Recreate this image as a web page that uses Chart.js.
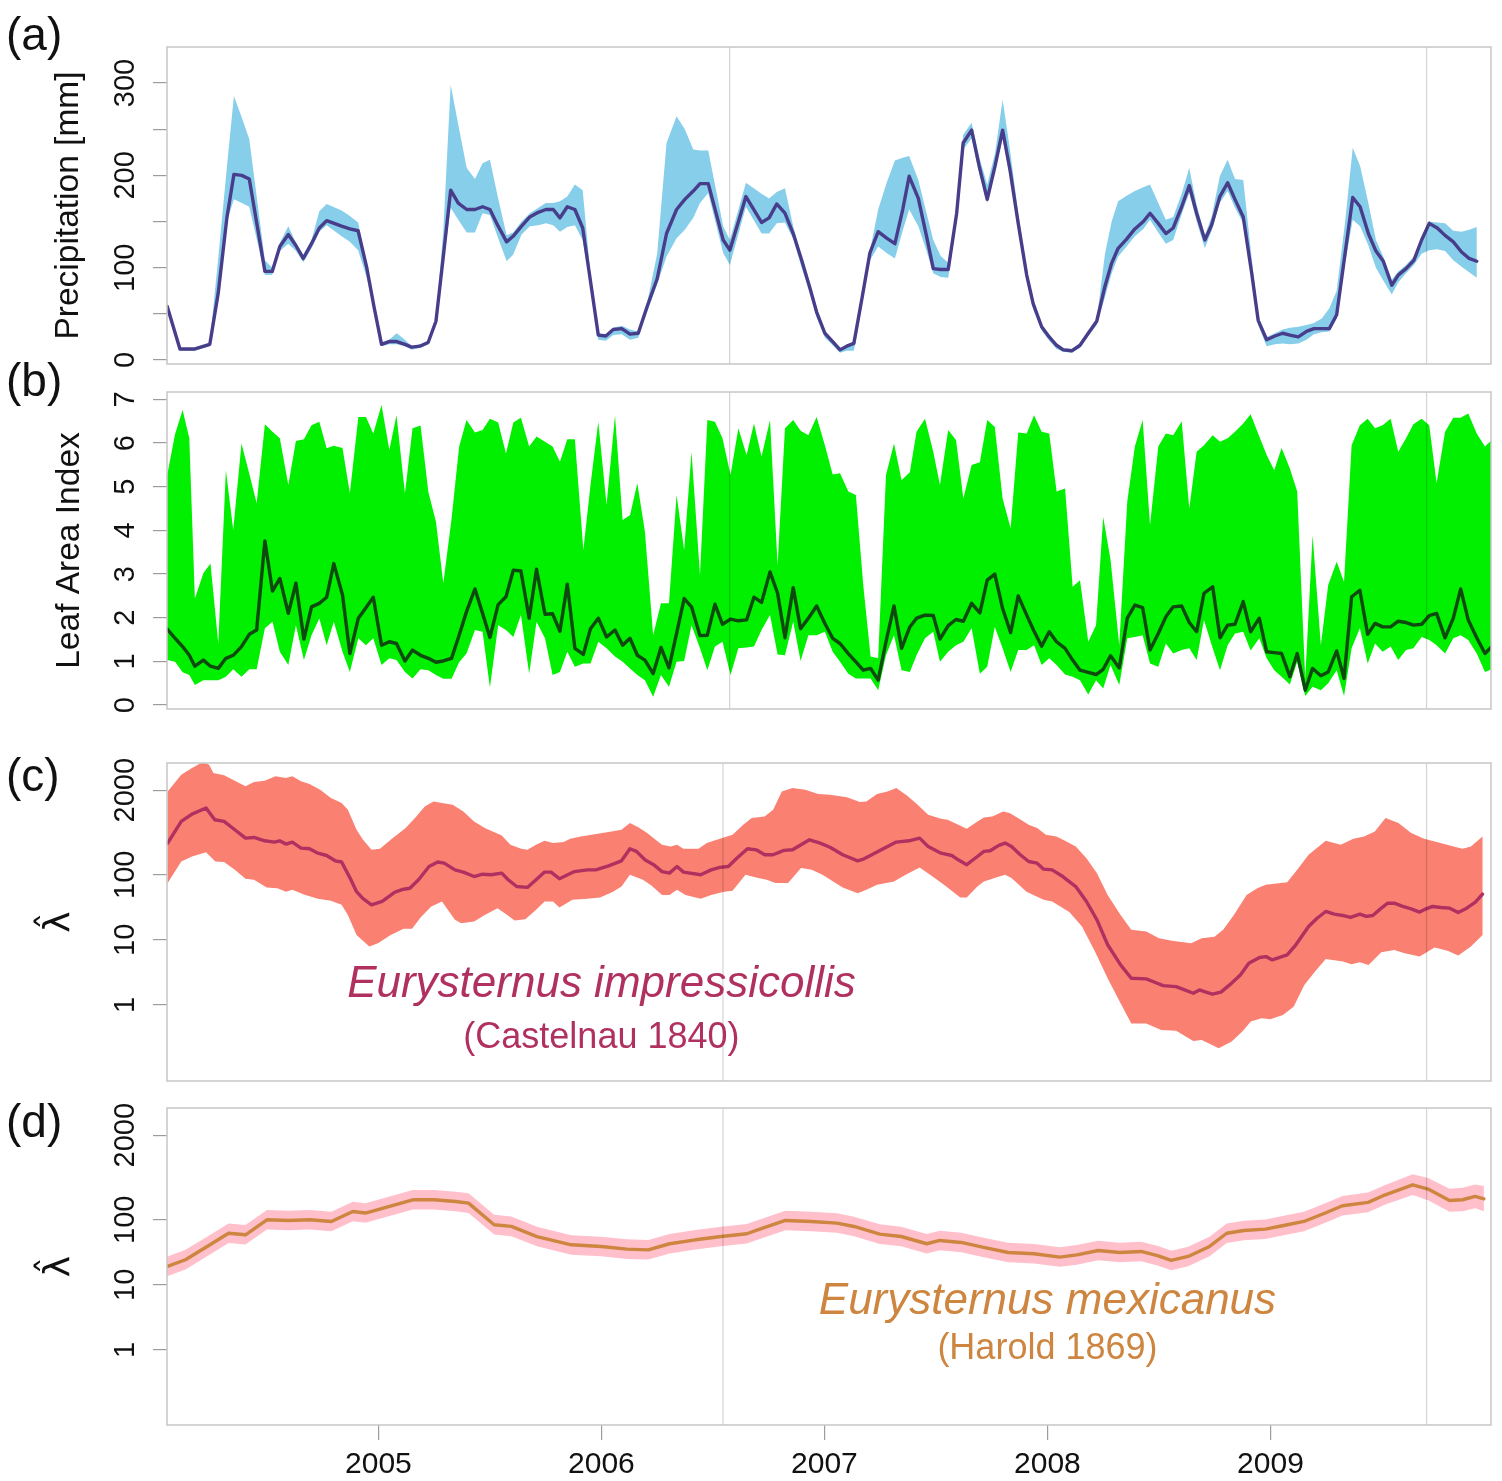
<!DOCTYPE html>
<html>
<head>
<meta charset="utf-8">
<title>Precipitation, LAI and dung beetle abundance</title>
<script src="https://cdn.jsdelivr.net/npm/chart.js@4.4.0/dist/chart.umd.min.js"></script>
<style>
  html, body { margin: 0; padding: 0; background: #fff; }
  #wrap { position: relative; width: 1502px; height: 1481px; overflow: hidden; }
  #wrap canvas { position: absolute; left: 0; top: 0; }
</style>
</head>
<body>
<div id="wrap">
  <canvas id="panelA" width="1502" height="1481"></canvas>
  <canvas id="panelB" width="1502" height="1481"></canvas>
  <canvas id="panelC" width="1502" height="1481"></canvas>
  <canvas id="panelD" width="1502" height="1481"></canvas>
</div>
<script>
// axis ticks and reference lines
var yearTicks = [2005, 2006, 2007, 2008, 2009];
var precipTicks = [0, 50, 100, 150, 200, 250, 300];
var laiTicks = [0, 1, 2, 3, 4, 5, 6, 7];
var lambdaTicks = [1, 10, 100, 2000];
var markersTop = [2006.575, 2009.70];
var markersBottom = [2006.545, 2009.70];

// (a) precipitation [mm]: median and range
var precipT = [2004.053,2004.110,2004.177,2004.244,2004.282,2004.321,2004.352,2004.387,2004.421,2004.491,2004.524,2004.558,2004.596,2004.630,2004.663,2004.700,2004.735,2004.768,2004.835,2004.872,2004.909,2004.947,2004.980,
  2005.014,2005.048,2005.082,2005.119,2005.149,2005.186,2005.223,2005.258,2005.291,2005.324,2005.358,2005.396,2005.433,2005.467,2005.500,2005.537,2005.575,2005.604,2005.642,2005.679,2005.717,2005.751,2005.784,2005.814,2005.847,2005.881,2005.916,2005.950,2005.986,
  2006.020,2006.053,2006.091,2006.128,2006.165,2006.205,2006.250,2006.292,2006.337,2006.374,2006.412,2006.442,2006.479,2006.546,2006.576,2006.648,2006.718,2006.752,2006.786,2006.823,2006.860,2006.898,2006.935,2006.965,
  2007.002,2007.037,2007.070,2007.100,2007.132,2007.167,2007.204,2007.241,2007.279,2007.316,2007.351,2007.380,2007.421,2007.458,2007.488,2007.521,2007.555,2007.593,2007.622,2007.660,2007.694,2007.730,2007.765,2007.799,2007.832,2007.869,2007.907,2007.936,2007.974,
  2008.008,2008.041,2008.071,2008.109,2008.146,2008.183,2008.221,2008.258,2008.288,2008.317,2008.355,2008.392,2008.430,2008.460,2008.497,2008.531,2008.564,2008.602,2008.636,2008.669,2008.706,2008.736,2008.773,2008.808,2008.841,2008.878,2008.916,2008.945,2008.983,
  2009.020,2009.055,2009.087,2009.125,2009.162,2009.195,2009.230,2009.264,2009.297,2009.335,2009.369,2009.402,2009.439,2009.473,2009.506,2009.544,2009.573,2009.608,2009.643,2009.678,2009.712,2009.748,2009.783,2009.820,2009.857,2009.891,2009.925];
var precipMean = [58,12,12,17,73,155,201,200,196,96,96,123,136,124,110,126,143,151,145,142,140,101,58,
  17,20,20,17,14,15,19,42,112,184,170,163,163,166,163,145,128,134,145,155,160,163,163,154,166,163,143,87,27,
  26,33,34,28,29,58,88,137,163,174,183,191,191,130,119,177,149,154,169,159,137,108,78,52,
  29,20,11,15,18,65,116,139,132,126,163,199,175,134,99,98,98,159,235,249,210,174,210,249,206,148,92,61,36,
  25,16,11,10,16,29,42,80,105,121,131,142,150,159,148,137,143,166,189,159,130,146,177,192,174,155,94,43,22,
  26,29,27,25,31,34,34,34,49,116,176,166,137,118,107,81,92,99,108,130,148,143,135,128,117,110,107];
var precipLow = [55,10,10,15,65,150,174,170,166,92,92,118,126,118,106,121,139,146,134,128,119,90,54,
  15,17,17,15,11,13,17,38,105,165,152,138,138,159,157,132,107,114,136,145,146,148,146,139,144,146,130,82,22,
  21,27,28,22,24,52,82,112,132,141,154,170,181,116,103,166,137,137,148,149,131,100,72,46,
  24,16,8,10,10,58,108,123,116,110,140,163,145,118,94,90,89,150,228,240,202,170,205,240,198,140,86,55,32,
  21,12,9,8,13,26,38,68,94,112,123,134,142,152,138,126,130,158,181,150,121,140,170,183,165,148,88,38,15,
  17,18,17,18,22,28,30,31,45,105,152,145,124,100,86,71,84,94,103,115,119,120,118,108,101,95,89];
var precipHigh = [60,13,13,19,111,210,286,263,239,108,100,127,145,127,114,130,161,169,162,156,149,104,60,
  19,22,29,22,15,17,21,45,140,298,255,208,196,213,217,175,135,138,150,159,165,170,170,172,177,190,184,95,29,
  28,35,37,33,31,62,115,235,264,250,228,227,227,145,130,192,180,175,182,186,145,112,81,55,
  31,22,13,16,20,70,118,163,192,216,219,221,195,159,130,113,105,163,244,257,220,190,224,282,228,159,98,64,38,
  27,17,13,12,18,31,44,115,150,172,178,183,187,190,170,152,155,180,208,168,135,155,199,217,196,195,110,47,25,
  29,33,35,36,38,40,45,56,75,150,230,210,170,130,112,87,96,103,112,134,150,149,148,140,139,141,144];

// (b) leaf area index: median and range
var laiT = [2004.053,2004.088,2004.122,2004.152,2004.177,2004.215,2004.247,2004.282,2004.316,2004.349,2004.386,2004.421,2004.454,2004.491,2004.525,2004.558,2004.596,2004.630,2004.666,2004.700,2004.735,2004.768,2004.800,2004.839,2004.872,2004.910,2004.944,2004.977,
  2005.014,2005.049,2005.081,2005.119,2005.153,2005.189,2005.224,2005.258,2005.291,2005.328,2005.362,2005.395,2005.433,2005.467,2005.500,2005.537,2005.572,2005.605,2005.639,2005.676,2005.709,2005.747,2005.781,2005.814,2005.847,2005.881,2005.919,2005.951,2005.986,
  2006.023,2006.061,2006.095,2006.128,2006.161,2006.195,2006.232,2006.267,2006.303,2006.337,2006.371,2006.404,2006.442,2006.475,2006.509,2006.543,2006.579,2006.614,2006.651,2006.684,2006.718,2006.756,2006.790,2006.823,2006.860,2006.893,2006.928,2006.965,
  2007.002,2007.037,2007.070,2007.107,2007.141,2007.174,2007.207,2007.241,2007.276,2007.312,2007.346,2007.383,2007.413,2007.451,2007.488,2007.518,2007.555,2007.590,2007.623,2007.660,2007.697,2007.730,2007.764,2007.799,2007.835,2007.869,2007.907,2007.940,2007.974,
  2008.008,2008.041,2008.079,2008.113,2008.146,2008.183,2008.218,2008.250,2008.283,2008.322,2008.358,2008.392,2008.427,2008.460,2008.497,2008.531,2008.564,2008.602,2008.636,2008.669,2008.702,2008.741,2008.774,2008.808,2008.841,2008.878,2008.911,2008.950,2008.983,
  2009.017,2009.050,2009.087,2009.120,2009.156,2009.189,2009.226,2009.259,2009.297,2009.330,2009.364,2009.401,2009.436,2009.469,2009.503,2009.539,2009.573,2009.608,2009.641,2009.678,2009.712,2009.745,2009.783,2009.820,2009.853,2009.887,2009.925,2009.962,2009.992];
var laiMean = [1.74,1.53,1.34,1.14,0.89,1.03,0.89,0.84,1.07,1.14,1.34,1.62,1.72,3.76,2.61,2.90,2.10,2.79,1.51,2.25,2.33,2.47,3.24,2.52,1.18,1.99,2.23,2.47,
  1.37,1.45,1.41,1.01,1.26,1.14,1.07,0.98,1.01,1.07,1.60,2.14,2.66,2.10,1.55,2.30,2.48,3.09,3.07,1.99,3.11,2.08,2.09,1.69,2.77,1.30,1.16,1.75,1.99,
  1.56,1.72,1.37,1.53,1.14,1.03,0.72,1.32,0.85,1.64,2.44,2.25,1.59,1.60,2.31,1.85,1.97,1.93,1.95,2.47,2.35,3.05,2.56,1.54,2.69,1.75,1.99,2.27,
  1.87,1.53,1.41,1.18,0.99,0.80,0.84,0.57,1.45,2.27,1.30,1.79,1.99,2.06,2.05,1.51,1.82,1.96,1.92,2.33,2.11,2.86,3.00,2.21,1.66,2.50,2.06,1.69,1.35,
  1.68,1.45,1.30,1.03,0.80,0.75,0.70,0.82,1.13,0.85,1.99,2.29,2.23,1.26,1.64,2.02,2.25,2.27,1.89,1.68,2.56,2.71,1.54,1.83,1.85,2.37,1.68,1.99,1.22,
  1.20,1.18,0.65,1.18,0.34,0.84,0.67,0.76,1.24,0.61,2.48,2.63,1.62,1.87,1.79,1.79,1.92,1.89,1.83,1.85,2.05,2.10,1.54,1.99,2.66,1.95,1.54,1.18,1.34];
var laiLow = [1.03,0.99,0.75,0.69,0.46,0.57,0.57,0.57,0.65,0.82,0.65,0.82,0.82,1.76,1.91,1.22,0.92,1.83,1.03,1.60,1.98,1.37,1.91,1.22,0.76,1.53,1.37,1.53,
  0.92,1.07,1.03,0.76,0.61,0.82,0.80,0.69,0.60,0.60,0.98,1.18,1.72,1.68,0.40,1.83,1.72,1.56,2.06,0.72,1.91,1.53,0.69,0.76,1.22,0.88,0.95,0.95,1.45,
  1.30,1.11,0.99,0.84,0.69,0.57,0.19,0.69,0.42,0.99,1.01,1.83,1.30,0.80,1.34,1.45,0.69,1.30,1.32,1.34,1.72,2.06,1.16,1.14,1.91,1.01,1.60,1.60,
  1.68,1.22,0.99,0.72,0.61,0.61,0.61,0.34,1.14,1.60,0.80,0.76,1.14,1.53,1.68,0.99,1.22,1.37,1.45,1.76,0.72,0.88,1.79,1.30,0.76,1.26,1.26,1.37,0.92,
  1.07,0.92,0.70,0.65,0.57,0.24,0.57,0.38,0.92,0.46,1.53,1.56,1.60,0.95,0.88,1.41,1.18,1.26,1.30,1.03,1.95,1.30,0.80,1.37,1.64,1.68,1.25,1.53,1.07,
  0.80,0.65,0.47,0.99,0.21,0.42,0.34,0.50,0.80,0.21,1.30,1.76,0.95,1.41,1.22,1.34,1.03,1.26,1.30,1.56,1.49,1.37,1.18,1.53,1.60,1.49,1.18,0.76,0.82];
var laiHigh = [5.27,6.20,6.76,6.11,2.44,3.02,3.24,1.41,5.38,4.01,5.99,5.30,4.62,6.43,6.26,6.11,5.04,6.05,6.09,6.41,6.49,5.88,5.94,5.89,4.85,6.60,6.60,6.22,
  6.87,5.84,6.64,4.85,6.34,6.40,4.88,4.20,2.79,4.27,5.92,6.53,6.24,6.30,6.56,6.47,5.76,6.47,6.58,5.92,6.15,6.03,5.92,5.57,6.09,6.09,3.55,5.04,6.49,
  4.58,6.63,4.24,4.35,5.08,3.97,1.60,2.33,2.33,4.81,3.55,5.80,2.98,6.53,6.49,6.11,5.27,6.34,5.73,6.45,5.69,6.53,3.21,6.34,6.53,6.28,6.18,6.60,
  5.95,5.28,5.31,4.89,4.81,2.75,1.11,1.07,5.27,5.99,5.15,5.33,6.26,6.56,5.80,5.04,6.30,6.07,4.73,5.50,5.56,6.53,6.37,4.73,4.05,6.24,6.22,6.64,6.26,
  6.22,4.89,4.96,2.71,2.86,1.45,1.83,4.31,3.32,1.37,4.66,5.92,6.53,4.12,5.92,6.22,6.18,6.50,4.50,5.80,5.95,6.18,6.03,6.11,6.26,6.45,6.66,6.15,5.73,
  5.38,5.89,5.42,4.89,0.61,3.89,1.37,2.75,3.28,2.82,5.95,6.41,6.56,6.34,6.41,6.56,5.80,6.11,6.43,6.56,6.41,5.08,6.26,6.58,6.58,6.68,6.22,5.92,6.07];

// (c) Eurysternus impressicollis, estimated abundance
var impT = [2004.055,2004.116,2004.164,2004.227,2004.266,2004.308,2004.356,2004.404,2004.442,2004.490,2004.534,2004.557,2004.586,2004.614,2004.653,2004.691,2004.729,2004.768,2004.806,2004.835,2004.873,2004.902,2004.931,2004.969,
  2005.017,2005.074,2005.113,2005.141,2005.180,2005.227,2005.266,2005.295,2005.343,2005.381,2005.429,2005.467,2005.505,2005.553,2005.582,2005.620,2005.668,2005.707,2005.745,2005.774,2005.812,2005.879,2005.937,2005.975,
  2006.032,2006.090,2006.128,2006.157,2006.195,2006.234,2006.272,2006.305,2006.339,2006.368,2006.445,2006.492,2006.531,2006.569,2006.607,2006.655,2006.694,2006.732,2006.770,2006.818,2006.857,2006.895,2006.933,2006.981,
  2007.025,2007.082,2007.149,2007.178,2007.255,2007.322,2007.379,2007.427,2007.465,2007.523,2007.571,2007.600,2007.638,2007.686,2007.715,2007.743,2007.782,2007.810,2007.839,2007.878,2007.916,2007.954,2007.983,
  2008.021,2008.069,2008.127,2008.175,2008.222,2008.270,2008.328,2008.376,2008.443,2008.481,2008.519,2008.577,2008.615,2008.654,2008.682,2008.711,2008.740,2008.778,2008.817,2008.865,2008.903,2008.951,2008.980,
  2009.008,2009.075,2009.114,2009.171,2009.209,2009.248,2009.286,2009.324,2009.359,2009.401,2009.430,2009.459,2009.497,2009.526,2009.555,2009.593,2009.631,2009.669,2009.698,2009.727,2009.765,2009.804,2009.842,2009.880,2009.919,2009.951];
var impMean = [307,661,857,1062,701,661,492,366,375,333,318,333,296,318,257,251,215,198,164,157,89,55,43,34.5,
  38.9,54,60,62,84,134,157,151,119,110,94,102,100,106,84,66,64,84,110,110,87,112,119,119,
  137,164,251,229,170,143,112,106,134,110,100,119,130,134,180,251,242,203,203,237,242,289,345,307,
  265,203,164,176,242,318,333,366,273,215,198,170,143,191,229,234,283,307,273,203,160,151,122,
  119,94,66,38.9,20.3,8.4,4.12,2.57,2.51,2.23,1.98,1.91,1.70,1.51,1.70,1.57,1.46,1.57,2.03,2.89,4.38,5.35,5.53,
  4.92,5.87,8.4,16.0,21.5,27.3,24.8,23.7,22.1,24.8,22.9,23.7,30.7,36.6,36.6,32.6,30.0,26.7,30.0,32.6,31.4,30.7,26.3,30.7,37.9,50.4];
var impHighT = [2004.055,2004.116,2004.164,2004.212,2004.241,2004.260,2004.308,2004.356,2004.404,2004.442,2004.490,2004.538,2004.586,2004.614,2004.653,2004.691,2004.739,2004.787,2004.835,2004.863,2004.902,2004.931,2004.969,
  2005.007,2005.055,2005.122,2005.170,2005.208,2005.247,2005.285,2005.333,2005.381,2005.429,2005.477,2005.553,2005.592,2005.640,2005.668,2005.707,2005.745,2005.783,2005.831,2005.860,2005.908,2005.956,
  2006.032,2006.090,2006.128,2006.167,2006.205,2006.243,2006.272,2006.310,2006.339,2006.368,2006.435,2006.473,2006.531,2006.588,2006.636,2006.674,2006.732,2006.770,2006.809,2006.857,2006.914,2006.972,
  2007.025,2007.101,2007.159,2007.188,2007.236,2007.283,2007.322,2007.370,2007.418,2007.465,2007.523,2007.552,2007.600,2007.638,2007.686,2007.715,2007.753,2007.801,2007.830,2007.868,2007.916,2007.954,2007.993,
  2008.040,2008.079,2008.127,2008.175,2008.222,2008.270,2008.328,2008.376,2008.443,2008.500,2008.558,2008.644,2008.692,2008.749,2008.788,2008.836,2008.893,2008.941,2008.979,
  2009.075,2009.114,2009.171,2009.248,2009.315,2009.372,2009.420,2009.468,2009.516,2009.574,2009.631,2009.689,2009.746,2009.804,2009.861,2009.899,2009.951];
var impHigh = [1914,3451,4375,5400,4920,3664,3373,2793,2286,2663,2793,3258,3069,3258,2729,2483,2032,1510,1267,1000,492,345,242,
  251,345,522,789,1125,1343,1267,1194,942,661,522,403,289,251,242,289,333,307,318,358,389,412,
  453,492,624,535,438,345,289,273,289,251,251,307,358,412,588,745,789,1000,1914,2153,2032,1742,
  1702,1549,1312,1343,1742,1914,2153,1660,1194,837,728,701,588,510,661,762,789,942,889,745,588,522,412,
  389,333,273,180,106,49,24.2,14.3,13.4,10.6,9.66,8.89,10.6,11.2,14.3,24.2,49,62,70,
  77,112,203,333,289,358,389,464,745,624,438,358,318,283,251,273,389];
var impLowT = [2004.055,2004.116,2004.164,2004.227,2004.269,2004.308,2004.356,2004.404,2004.442,2004.499,2004.547,2004.586,2004.614,2004.672,2004.729,2004.787,2004.835,2004.863,2004.902,2004.959,2004.998,
  2005.055,2005.113,2005.151,2005.189,2005.237,2005.285,2005.343,2005.371,2005.429,2005.477,2005.534,2005.573,2005.611,2005.659,2005.707,2005.745,2005.783,2005.812,2005.870,2005.937,2005.994,
  2006.052,2006.090,2006.128,2006.186,2006.224,2006.272,2006.305,2006.339,2006.377,2006.445,2006.492,2006.550,2006.588,2006.646,2006.703,2006.741,2006.780,2006.837,2006.895,2006.943,2006.991,
  2007.082,2007.149,2007.188,2007.236,2007.312,2007.360,2007.427,2007.485,2007.542,2007.609,2007.638,2007.686,2007.715,2007.763,2007.810,2007.839,2007.906,2007.983,
  2008.021,2008.098,2008.155,2008.213,2008.270,2008.328,2008.376,2008.443,2008.510,2008.577,2008.654,2008.692,2008.768,2008.826,2008.874,2008.912,2008.960,2008.999,
  2009.056,2009.104,2009.152,2009.200,2009.248,2009.325,2009.363,2009.401,2009.440,2009.497,2009.555,2009.602,2009.669,2009.736,2009.794,2009.842,2009.899,2009.951];
var impLow = [74.5,160,191,223,160,157,119,87,84,64,62,55,59,49,43,40,34.5,24.2,11.9,7.9,8.9,
  11.9,14.8,14.8,22,32.6,38.9,20.3,18.0,19.1,24.2,30.7,24.8,19.8,20.8,28.9,38.9,38.9,31.4,41.2,42.8,44.8,
  55,66,100,84,68.5,49,49,59,49,43,49,55,57,100,89,84,74.5,74.5,127,119,100,
  64,52,59,70,79,98,130,94,68,44.8,44.8,66,79,89,100,89,55,41.2,
  38.9,26.7,16.0,6.6,2.57,1.06,0.52,0.52,0.41,0.40,0.28,0.29,0.215,0.273,0.389,0.555,0.624,0.60,
  0.70,0.94,2.03,3.26,5.1,4.65,4.23,4.53,4.12,6.46,7.0,6.24,5.53,7.6,6.78,5.74,7.9,11.9];

// (d) Eurysternus mexicanus, estimated abundance
var mexT = [2004.051,2004.135,2004.232,2004.328,2004.404,2004.500,2004.597,2004.693,2004.789,2004.885,2004.942,
  2005.038,2005.154,2005.250,2005.346,2005.404,2005.519,2005.596,2005.711,2005.865,2005.999,
  2006.114,2006.210,2006.306,2006.422,2006.537,2006.652,2006.710,2006.825,2006.940,
  2007.056,2007.133,2007.248,2007.344,2007.459,2007.517,2007.613,2007.709,2007.824,2007.940,
  2008.055,2008.132,2008.228,2008.324,2008.420,2008.497,2008.555,2008.631,2008.727,2008.804,2008.881,2008.977,
  2009.054,2009.150,2009.246,2009.323,2009.438,2009.515,2009.638,2009.707,2009.803,2009.861,2009.918,2009.957];
var mexMean = [19.1,24.3,38.9,62,58.8,100,97.7,100,94.2,134,127,
  157,203,203,191,180,84,79,55,41.2,38.9,
  35.4,34.5,42.8,49.2,55.3,61,71.8,97.7,94.2,
  88.9,78.9,60.1,55.3,42.8,48.1,44.8,37.9,31.4,30,
  26.7,28.9,33.7,31.4,32.6,27.9,23.7,27.3,38.9,62,68.5,71.8,
  80.9,94.2,127,164,185,242,345,296,198,203,229,210];
var mexHigh = [27,34.5,55,88,83,141,138,141,133,190,180,
  222,287,287,270,255,119,112,78,58,55,
  50,49,60.5,69.5,78,86,101,138,133,
  126,111.5,85,78,60.5,68,63.3,53.6,44.4,42.4,
  37.7,40.9,47.6,44.4,46.1,39.4,33.5,38.6,55,88,97,101,
  114,133,180,232,262,342,500,440,300,310,350,330];
var mexLow = [13.5,17.2,27.5,44,41.5,71,69,71,66.5,95,90,
  111,144,144,135,127,59.5,56,39,29,27.5,
  25,24.4,30.3,34.8,39,43,50.7,69,66.5,
  63,55.8,42.5,39,30.3,34,31.7,26.8,22.2,21.2,
  18.9,20.4,23.8,22.2,23,19.7,16.8,19.3,27.5,44,48.4,50.7,
  57.2,66.5,90,116,131,171,240,200,133,135,150,135];

var FONT = '"Liberation Sans", Arial, Helvetica, sans-serif';
var X_MIN = 2004.052, X_MAX = 2009.989;
var PLOT_LEFT = 167, FULL_H = 1481;
var TICK_LEN = 14, LABEL_CENTRE = 126, TICK_FONT = 29;

function xy(t, v) {
  return t.map(function (x, i) { return {x: x, y: v[i]}; });
}

// polygon: upper edge forwards, lower edge backwards
function bandPoints(tHi, hi, tLo, lo) {
  var pts = xy(tHi, hi);
  for (var i = tLo.length - 1; i >= 0; i--) pts.push({x: tLo[i], y: lo[i]});
  return pts;
}

// padding so the rotated tick labels sit centred on x = LABEL_CENTRE
function tickPad(labels) {
  var c = document.createElement('canvas').getContext('2d');
  c.font = TICK_FONT + 'px ' + FONT;
  var w = Math.max.apply(null, labels.map(function (l) { return c.measureText(l).width; }));
  return PLOT_LEFT - TICK_LEN - LABEL_CENTRE - w / 2;
}

var framePlugin = {
  id: 'frame',
  afterDatasetsDraw: function (chart) {
    var a = chart.chartArea, ctx = chart.ctx;
    ctx.save();
    ctx.strokeStyle = '#c6c6c6';
    ctx.lineWidth = 1.5;
    ctx.strokeRect(a.left, a.top, a.right - a.left, a.bottom - a.top);
    ctx.restore();
  },
  afterDraw: function (chart, args, opts) {
    var ctx = chart.ctx;
    ctx.save();
    ctx.fillStyle = '#111';
    ctx.font = '46px ' + FONT;
    ctx.textAlign = 'left';
    ctx.textBaseline = 'middle';
    ctx.fillText(opts.letter, 6, opts.letterY);
    (opts.notes || []).forEach(function (n) {
      ctx.font = n.font;
      ctx.fillStyle = n.color;
      ctx.textAlign = 'center';
      ctx.textBaseline = 'alphabetic';
      ctx.fillText(n.text, chart.scales.x.getPixelForValue(n.x), chart.scales.y.getPixelForValue(n.y));
    });
    ctx.restore();
  }
};

function makePanel(id, cfg) {
  var datasets = [];
  cfg.markers.forEach(function (t) {
    datasets.push({
      data: [{x: t, y: cfg.yMin}, {x: t, y: cfg.yMax}],
      borderColor: 'rgba(0,0,0,0.16)', borderWidth: 1.3,
      pointRadius: 0, fill: false, order: 0
    });
  });
  datasets.push({
    data: xy(cfg.t, cfg.mean),
    borderColor: cfg.lineColor, borderWidth: 3.4,
    borderJoinStyle: 'round', borderCapStyle: 'round',
    pointRadius: 0, fill: false, tension: 0, order: 1
  });
  datasets.push({
    data: cfg.band,
    backgroundColor: cfg.bandColor, borderColor: 'rgba(0,0,0,0)', borderWidth: 0,
    pointRadius: 0, fill: 'shape', tension: 0, order: 2
  });

  var tickLabels = cfg.yTicks.map(cfg.yLabel).filter(function (s) { return s !== ''; });

  return new Chart(document.getElementById(id), {
    type: 'line',
    data: {datasets: datasets},
    plugins: [framePlugin],
    options: {
      responsive: false,
      animation: false,
      events: [],
      layout: {padding: {top: cfg.top, bottom: cfg.bottom, left: 0, right: 11}},
      plugins: {
        legend: {display: false},
        tooltip: {enabled: false},
        frame: {letter: cfg.letter, letterY: cfg.letterY, notes: cfg.notes}
      },
      scales: {
        x: {
          type: 'linear', min: X_MIN, max: X_MAX, display: cfg.showX,
          afterBuildTicks: function (s) { s.ticks = yearTicks.map(function (v) { return {value: v}; }); },
          afterFit: function (s) { if (cfg.showX) s.height = 56; },
          grid: {drawOnChartArea: false, drawTicks: true, tickLength: 15, color: '#9c9c9c', lineWidth: 1.2},
          border: {display: false},
          ticks: {autoSkip: false, maxRotation: 0, padding: 7, color: '#111',
                  font: {family: FONT, size: 30}, callback: function (v) { return String(v); }}
        },
        y: {
          type: cfg.yType, min: cfg.yMin, max: cfg.yMax,
          afterBuildTicks: function (s) { s.ticks = cfg.yTicks.map(function (v) { return {value: v}; }); },
          afterFit: function (s) { s.width = PLOT_LEFT; },
          grid: {drawOnChartArea: false, drawTicks: true, tickLength: TICK_LEN, color: '#9c9c9c', lineWidth: 1.2},
          border: {display: false},
          ticks: {autoSkip: false, minRotation: 90, maxRotation: 90, crossAlign: 'center',
                  padding: tickPad(tickLabels), color: '#111',
                  font: {family: FONT, size: TICK_FONT}, callback: cfg.yLabel},
          title: {display: true, text: cfg.title, color: '#111',
                  font: {family: cfg.titleFont || FONT, size: cfg.titleSize},
                  padding: {top: cfg.titlePad, bottom: 0}}
        }
      }
    }
  });
}

function plainLabel(v) { return String(v); }

makePanel('panelA', {
  top: 47, bottom: FULL_H - 364, showX: false,
  yType: 'linear', yMin: -4.3, yMax: 339, yTicks: precipTicks,
  yLabel: function (v) { return v % 100 === 0 ? String(v) : ''; },
  title: 'Precipitation [mm]', titleSize: 33.5, titlePad: 49,
  t: precipT, mean: precipMean, band: bandPoints(precipT, precipHigh, precipT, precipLow),
  lineColor: '#483D8B', bandColor: '#87CEEB',
  markers: markersTop, letter: '(a)', letterY: 37
});

makePanel('panelB', {
  top: 392, bottom: FULL_H - 709, showX: false,
  yType: 'linear', yMin: -0.09, yMax: 7.17, yTicks: laiTicks, yLabel: plainLabel,
  title: 'Leaf Area Index', titleSize: 33.5, titlePad: 50,
  t: laiT, mean: laiMean, band: bandPoints(laiT, laiHigh, laiT, laiLow),
  lineColor: '#0E4A0E', bandColor: '#00F000',
  markers: markersTop, letter: '(b)', letterY: 383
});

makePanel('panelC', {
  top: 763, bottom: FULL_H - 1081, showX: false,
  yType: 'logarithmic', yMin: 0.0677, yMax: 5226, yTicks: lambdaTicks, yLabel: plainLabel,
  title: '\u03BB\u0302', titleFont: '"DejaVu Sans", sans-serif', titleSize: 36, titlePad: 38,
  t: impT, mean: impMean, band: bandPoints(impHighT, impHigh, impLowT, impLow),
  lineColor: '#B03060', bandColor: '#FA8072',
  markers: markersBottom, letter: '(c)', letterY: 778,
  notes: [
    {text: 'Eurysternus impressicollis', x: 2006.0, y: 1.33, font: 'italic 44px ' + FONT, color: '#B03060'},
    {text: '(Castelnau 1840)', x: 2006.0, y: 0.218, font: '36px ' + FONT, color: '#B03060'}
  ]
});

makePanel('panelD', {
  top: 1108, bottom: 0, showX: true,
  yType: 'logarithmic', yMin: 0.070, yMax: 5226, yTicks: lambdaTicks, yLabel: plainLabel,
  title: '\u03BB\u0302', titleFont: '"DejaVu Sans", sans-serif', titleSize: 36, titlePad: 38,
  t: mexT, mean: mexMean, band: bandPoints(mexT, mexHigh, mexT, mexLow),
  lineColor: '#CD853F', bandColor: '#FFC0CB',
  markers: markersBottom, letter: '(d)', letterY: 1124,
  notes: [
    {text: 'Eurysternus mexicanus', x: 2008.0, y: 3.52, font: 'italic 44px ' + FONT, color: '#CD853F'},
    {text: '(Harold 1869)', x: 2008.0, y: 0.727, font: '36px ' + FONT, color: '#CD853F'}
  ]
});
</script>
</body>
</html>
